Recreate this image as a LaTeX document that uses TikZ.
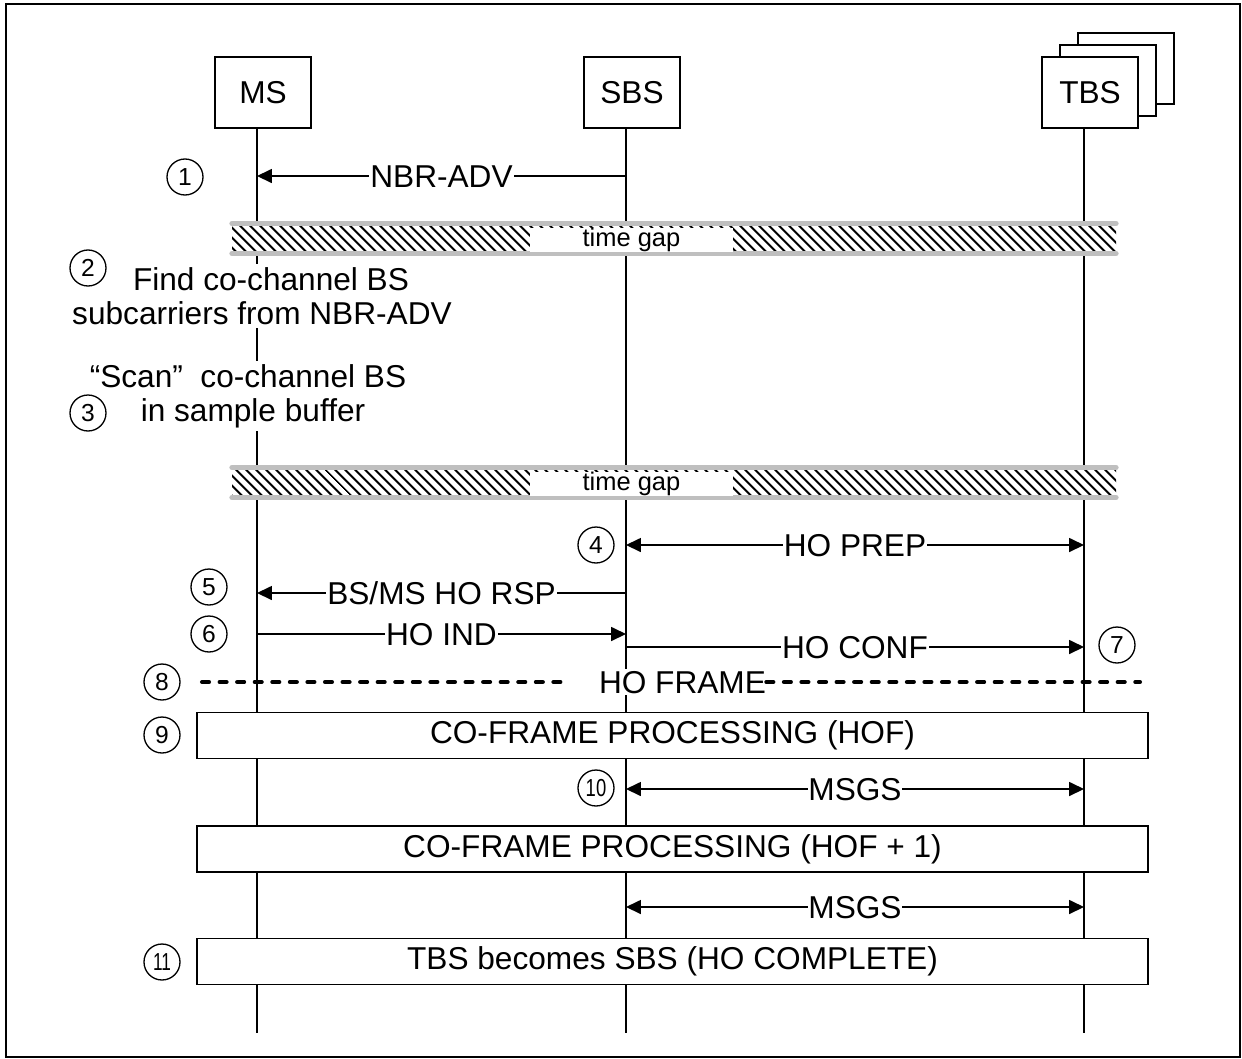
\documentclass[tikz,border=0pt]{standalone}
\usepackage{fontspec}
\setmainfont{Liberation Sans}
\usetikzlibrary{arrows.meta,patterns.meta}
\newcommand{\lblfont}{\fontsize{18}{21}\selectfont}
\newcommand{\numfont}{\fontsize{14}{16}\selectfont}

\begin{document}
\begin{tikzpicture}[x=0.02cm,y=-0.02cm,
  entity/.style={draw,line width=1pt,fill=white,minimum width=1.92cm,minimum height=1.42cm,font=\lblfont},
  lifeline/.style={line width=0.75pt},
  msg/.style={line width=0.75pt,-{Triangle[length=8.5pt,width=8pt]}},
  dmsg/.style={line width=0.75pt,{Triangle[length=8.5pt,width=8pt]}-{Triangle[length=8.5pt,width=8pt]}},
  lbl/.style={fill=white,inner xsep=0.5pt,inner ysep=1pt,font=\lblfont,text height=12.8pt,text depth=0pt},
  steptext/.style={fill=white,align=center,inner sep=2pt,font=\fontsize{18}{19.5}\selectfont},
  stepno/.style={draw,circle,line width=0.75pt,minimum size=0.72cm,inner sep=0pt,font=\numfont},
  procbox/.style={draw,line width=1pt,fill=white,minimum width=19.02cm,minimum height=0.92cm,font=\lblfont},
  gapline/.style={line width=3pt,color=black!25,line cap=round},
  frameline/.style={line width=2.3pt,dash pattern=on 4pt off 6pt,line cap=round}]

\useasboundingbox (0,0) rectangle (1242,1059);
\draw[line width=1.1pt] (6,4) rectangle (1240,1057);

% heads, TBS stacked three deep
\node[entity] (tbs3) at (1126,68.5) {};
\node[entity] (tbs2) at (1108,80.5) {};
\node[entity] (tbs) at (1090,92.5) {TBS};
\node[entity] (ms) at (263,92.5) {MS};
\node[entity] (sbs) at (632,92.5) {SBS};

% lifelines
\coordinate (bot) at (0,1033);
\foreach \n in {ms,sbs,tbs}
  \draw[lifeline] ([xshift=-0.12cm]\n.south) coordinate (\n-l) -- (\n-l |- bot);

% 1
\coordinate (m1) at (0,176);
\draw[msg] (sbs-l |- m1) -- node[lbl] {NBR-ADV} (ms-l |- m1);
\node[stepno] (n1) at (185,177) {1};

% time gaps
\foreach \y/\g in {238.5/gap1,482.5/gap2} {
  \fill[white] (232,{\y-14}) rectangle (1116,{\y+14});
  \fill[pattern={Lines[angle=-45,distance=4pt,line width=1.2pt]}] (232,{\y-13}) rectangle (1116,{\y+13});
  \draw[gapline] (232,{\y-15}) -- (1116,{\y-15});
  \draw[gapline] (232,{\y+15}) -- (1116,{\y+15});
  \node[fill=white,minimum width=4.06cm,minimum height=0.44cm,inner sep=0pt,font=\fontsize{14.5}{16}\selectfont] (\g) at (631.5,{\y+1.5}) {\raisebox{-2.5pt}{time gap}};
}

% 2, 3
\node[steptext] (s2) at (262,296) {\hspace*{0.36cm}Find co-channel BS\\subcarriers from NBR-ADV};
\node[stepno] (n2) at (88,268) {2};
\node[steptext] (s3) at (248,396) {“Scan”\ \ co-channel BS\\\hspace*{0.2cm}in sample buffer};
\node[stepno] (n3) at (88,413) {3};

% 4 - 7
\coordinate (m4) at (0,545);
\draw[dmsg] (sbs-l |- m4) -- node[lbl] {HO PREP} (tbs-l |- m4);
\node[stepno] (n4) at (596,545) {4};
\coordinate (m5) at (0,593);
\draw[msg] (sbs-l |- m5) -- node[lbl] {BS/MS HO RSP} (ms-l |- m5);
\node[stepno] (n5) at (209,587) {5};
\coordinate (m6) at (0,634);
\draw[msg] (ms-l |- m6) -- node[lbl] {HO IND} (sbs-l |- m6);
\node[stepno] (n6) at (209,634) {6};
\coordinate (m7) at (0,647);
\draw[msg] (sbs-l |- m7) -- node[lbl] {HO CONF} (tbs-l |- m7);
\node[stepno] (n7) at (1117,645) {7};

% 8 handover frame
\coordinate (f8l) at (202,682);
\coordinate (f8r) at (1140,682);
\node[lbl,inner xsep=0pt] (hof) at (682.5,682) {HO FRAME};
\draw[frameline] (f8l) -- ([xshift=-0.58cm]hof.west);
\draw[frameline] (hof.east) -- (f8r);
\node[stepno] (n8) at (162,682) {8};

% 9 - 11
\node[procbox] (p1) at (672.5,735.5) {CO-FRAME PROCESSING (HOF)};
\node[stepno] (n9) at (162,735) {9};
\coordinate (m10) at (0,789);
\draw[dmsg] (sbs-l |- m10) -- node[lbl] {MSGS} (tbs-l |- m10);
\node[stepno] (n10) at (596,788) {\scalebox{0.75}[1]{10}};
\node[procbox] (p2) at (672.5,849) {CO-FRAME PROCESSING (HOF + 1)};
\coordinate (m12) at (0,907);
\draw[dmsg] (sbs-l |- m12) -- node[lbl] {MSGS} (tbs-l |- m12);
\node[procbox] (p3) at (672.5,961.5) {TBS becomes SBS (HO COMPLETE)};
\node[stepno] (n11) at (162,962) {\scalebox{0.7}[1]{11}};
\end{tikzpicture}
\end{document}
